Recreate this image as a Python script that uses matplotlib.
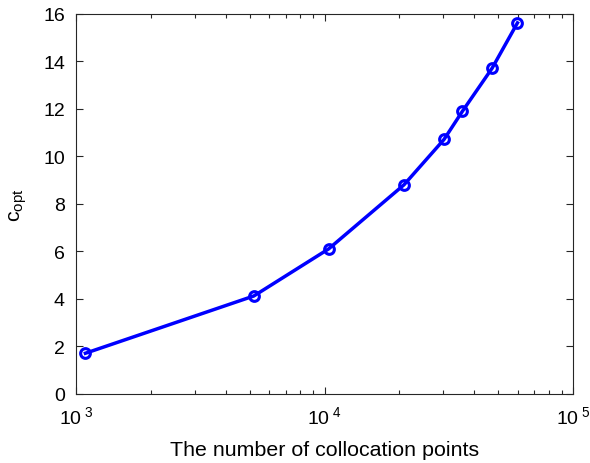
import matplotlib
matplotlib.use("Agg")
import matplotlib.pyplot as plt
from matplotlib.ticker import FuncFormatter, LogLocator, MultipleLocator
import numpy as np

plt.rcParams["font.family"] = ["Liberation Sans", "DejaVu Sans"]
plt.rcParams["mathtext.fontset"] = "custom"
plt.rcParams["mathtext.rm"] = "Liberation Sans"
plt.rcParams["mathtext.it"] = "Liberation Sans:italic"

# collocation points vs optimal shape parameter
n_points = [1090, 5190, 10380, 20880, 30270, 35920, 47280, 59820]
c_opt = [1.71, 4.12, 6.10, 8.80, 10.71, 11.90, 13.71, 15.62]

fig = plt.figure(figsize=(5.9, 4.64), dpi=100)
ax = fig.add_axes([0.129, 0.149, 0.842, 0.819])

ax.plot(n_points, c_opt, "-o", color="#0000ff", lw=2.5, ms=7,
        mfc="none", mew=2.2)

ax.set_xscale("log")
ax.set_xlim(1e3, 1e5)
ax.set_ylim(0, 16)
ax.yaxis.set_major_locator(MultipleLocator(2))
ax.xaxis.set_major_locator(LogLocator(base=10, numticks=5))
ax.xaxis.set_minor_locator(LogLocator(base=10, subs=np.arange(2, 10), numticks=20))
ax.xaxis.set_major_formatter(FuncFormatter(lambda v, p: r"$\mathregular{10^{\;%d}}$" % round(np.log10(v))))

ax.tick_params(which="both", direction="in", top=True, right=True,
               labelsize=14, color="#262626", width=0.8)
ax.tick_params(axis="y", which="major", length=5, pad=8)
ax.tick_params(axis="x", which="major", length=5, pad=8.5)
ax.tick_params(which="minor", length=3)
for s in ax.spines.values():
    s.set_color("#262626")
    s.set_linewidth(0.8)

ax.set_xlabel("The number of collocation points", fontsize=15.4, labelpad=9)
ax.set_ylabel(r"$\mathregular{c_{opt}}$", fontsize=15.4, labelpad=10)

fig.savefig("out.png", dpi=100)
